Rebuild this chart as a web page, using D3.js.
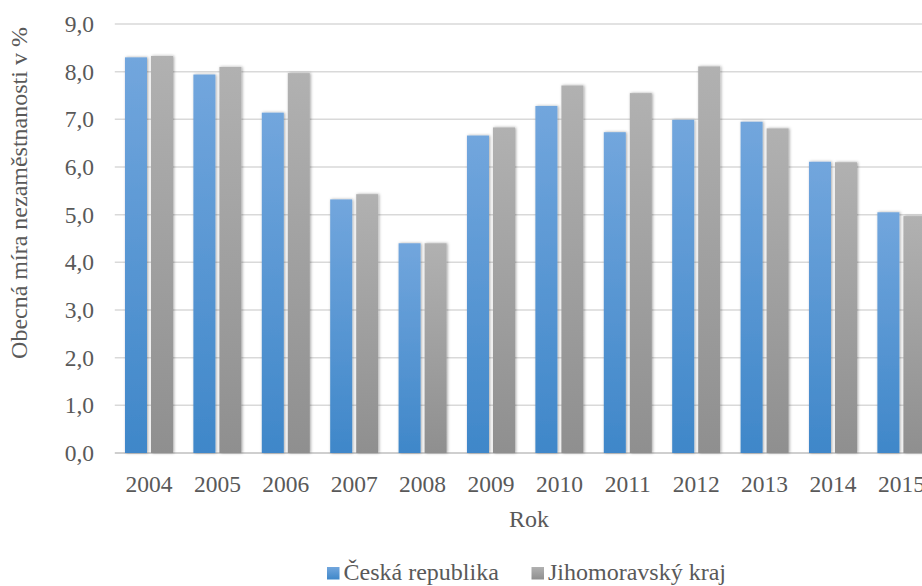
<!DOCTYPE html>
<html>
<head>
<meta charset="utf-8">
<script src="https://cdn.jsdelivr.net/npm/d3@7"></script>
</head>
<body style="margin:0">
<svg id="viz" width="922" height="586"></svg>
<script>
const years = ["2004","2005","2006","2007","2008","2009","2010","2011","2012","2013","2014","2015"];
const seriesNames = ["Česká republika", "Jihomoravský kraj"];
const czValues  = [8.30, 7.94, 7.14, 5.32, 4.40, 6.66, 7.28, 6.73, 6.99, 6.95, 6.11, 5.05];
const jmkValues = [8.33, 8.10, 7.97, 5.43, 4.40, 6.83, 7.71, 7.55, 8.11, 6.81, 6.10, 4.97];
const yTicks = [0,1,2,3,4,5,6,7,8,9];
const yTitle = "Obecná míra nezaměstnanosti v %";
const xTitle = "Rok";

const FONT = "\"Liberation Serif\", serif";
const TXT = "#595959";
const svg = d3.select("#viz");
const plotTop = 24, plotBottom = 453, plotLeft = 114.8, plotRight = 935.6;

function styleText(sel, size) {
  return sel.style("font-family", FONT, "important")
    .style("font-size", size + "px", "important")
    .attr("fill", TXT);
}

const defs = svg.append("defs");
const grads = [
  {id: "gBlue", top: "#72a6dd", bottom: "#3f87c9"},
  {id: "gGray", top: "#b1b1b1", bottom: "#8f8f8f"}
];
grads.forEach(g => {
  const lg = defs.append("linearGradient").attr("id", g.id)
    .attr("x1", 0).attr("y1", 0).attr("x2", 0).attr("y2", 1);
  lg.append("stop").attr("offset", "0%").attr("stop-color", g.top);
  lg.append("stop").attr("offset", "100%").attr("stop-color", g.bottom);
});
const f = defs.append("filter").attr("id", "shadow")
  .attr("x", "-30%").attr("y", "-10%").attr("width", "160%").attr("height", "120%");
f.append("feDropShadow").attr("dx", 1).attr("dy", 0).attr("stdDeviation", 1.4)
  .attr("flood-color", "#000").attr("flood-opacity", 0.35);

const y = d3.scaleLinear().domain([0, 9]).range([plotBottom, plotTop]);
const x0 = d3.scaleBand().domain(years).range([plotLeft, plotRight])
  .paddingInner(0.298).paddingOuter(0.149);
const x1 = d3.scaleBand().domain(seriesNames).range([0, x0.bandwidth()])
  .paddingInner(0.154).paddingOuter(0);

// gridlines
svg.append("g").selectAll("line").data(yTicks).join("line")
  .attr("x1", plotLeft).attr("x2", 922)
  .attr("y1", d => y(d)).attr("y2", d => y(d))
  .attr("stroke", d => d === 0 ? "#cfcfcf" : "#d9d9d9")
  .attr("stroke-width", d => d === 0 ? 2 : 1.5);

// y tick labels
const fmt = v => d3.format(".1f")(v).replace(".", ",");
styleText(svg.append("g").selectAll("text").data(yTicks).join("text")
  .attr("x", 94).attr("y", d => y(d)).attr("dy", "0.34em")
  .attr("text-anchor", "end"), 23.5)
  .text(d => fmt(d));

// bars
const data = years.map((yr, i) => ({year: yr, vals: [
  {s: seriesNames[0], v: czValues[i], fill: "url(#gBlue)"},
  {s: seriesNames[1], v: jmkValues[i], fill: "url(#gGray)"}
]}));
const groups = svg.append("g").selectAll("g").data(data).join("g")
  .attr("transform", d => `translate(${x0(d.year)},0)`);
groups.selectAll("rect").data(d => d.vals).join("rect")
  .attr("x", d => x1(d.s)).attr("width", x1.bandwidth())
  .attr("y", d => y(d.v)).attr("height", d => y(0) - y(d.v))
  .attr("fill", d => d.fill).attr("filter", "url(#shadow)");

// x tick labels
styleText(svg.append("g").selectAll("text").data(years).join("text")
  .attr("x", d => x0(d) + x0.bandwidth() / 2).attr("y", 491.5)
  .attr("text-anchor", "middle"), 23.5)
  .text(d => d);

// axis titles
styleText(svg.append("text").attr("x", 529).attr("y", 527)
  .attr("text-anchor", "middle"), 24).text(xTitle);
styleText(svg.append("text").attr("transform", "translate(27,193) rotate(-90)")
  .attr("text-anchor", "middle"), 24).text(yTitle);

// legend
const legendX = [327, 531.5];
const legendFills = ["url(#gBlue)", "url(#gGray)"];
const leg = svg.append("g").selectAll("g").data(seriesNames).join("g")
  .attr("transform", (d, i) => `translate(${legendX[i]},0)`);
leg.append("rect").attr("x", 0).attr("y", 567).attr("width", 12.5).attr("height", 12.5)
  .attr("fill", (d, i) => legendFills[i]);
styleText(leg.append("text").attr("x", 16.5).attr("y", 580), 24)
  .text(d => d);
</script>
</body>
</html>
